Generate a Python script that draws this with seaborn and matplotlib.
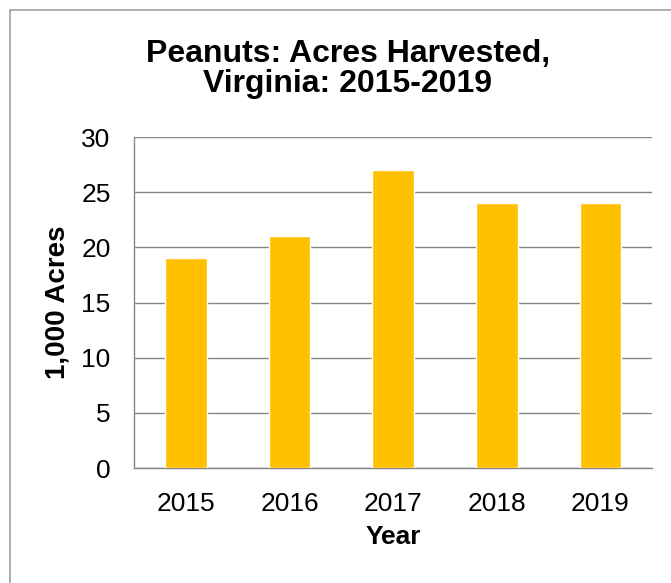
import matplotlib
matplotlib.use("Agg")
import matplotlib.pyplot as plt
import seaborn as sns
import pandas as pd
from matplotlib.lines import Line2D

# Datos del grafico
anios = ["2015", "2016", "2017", "2018", "2019"]
acres = [19, 21, 27, 24, 24]

titulo = "Peanuts: Acres Harvested,\nVirginia: 2015-2019"
etiqueta_y = "1,000 Acres"
etiqueta_x = "Year"

df = pd.DataFrame({"Year": anios, "Acres": acres})

sns.set_style("white")
plt.rcParams["font.family"] = ["Liberation Sans", "DejaVu Sans"]
plt.rcParams["text.color"] = "black"
plt.rcParams["axes.labelcolor"] = "black"
plt.rcParams["xtick.color"] = "black"
plt.rcParams["ytick.color"] = "black"

fig = plt.figure(figsize=(6.71, 5.83), dpi=100)
ax = fig.add_axes([0.2, 0.197, 0.772, 0.568])

sns.barplot(data=df, x="Year", y="Acres", color="#FFC000", saturation=1,
            width=0.4, ax=ax, zorder=3)

gris = "#868686"
ax.set_ylim(0, 30)
ax.set_xlim(-0.5, 4.5)
ax.set_yticks(range(0, 31, 5))
ax.yaxis.grid(True, color=gris, linewidth=1, zorder=0)
ax.set_axisbelow(True)

for lado in ["top", "right"]:
    ax.spines[lado].set_visible(False)
for lado in ["left", "bottom"]:
    ax.spines[lado].set_color(gris)
    ax.spines[lado].set_linewidth(1)

# marcas entre categorias
ax.set_xticks([i - 0.5 for i in range(6)], minor=True)
ax.tick_params(axis="x", which="minor", length=6, color=gris, width=1, direction="out")
ax.tick_params(axis="x", which="major", length=0, pad=17, labelsize=19)
ax.tick_params(axis="y", length=0, pad=17, labelsize=19)

ax.set_xlabel(etiqueta_x, fontsize=19, fontweight="bold", labelpad=7)
ax.set_ylabel(etiqueta_y, fontsize=20, fontweight="bold", labelpad=8)

fig.text(0.518, 0.830, titulo, ha="center", va="bottom", fontsize=23,
         fontweight="bold", linespacing=1.0)

# borde del grafico
fig.add_artist(Line2D([9.5 / 671, 1], [1 - 10 / 583, 1 - 10 / 583], color="#a0a0a0", linewidth=1.2))
fig.add_artist(Line2D([9.5 / 671, 9.5 / 671], [0, 1 - 10 / 583], color="#a0a0a0", linewidth=1.2))

fig.savefig("out.png", dpi=100)
